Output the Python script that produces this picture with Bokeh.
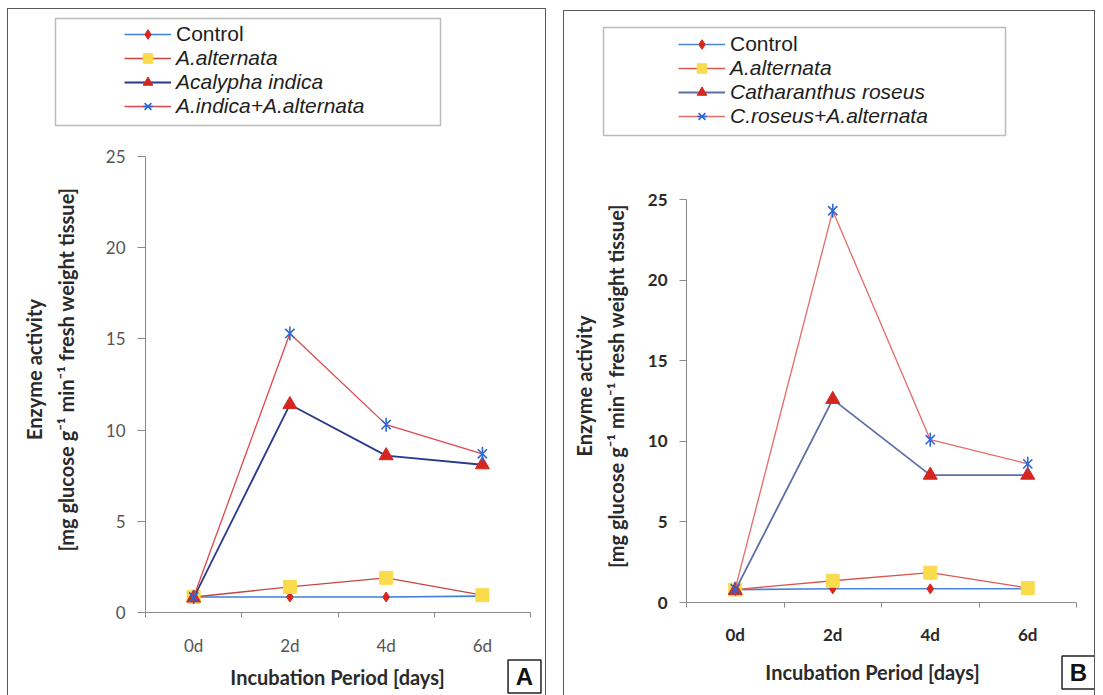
import math

from bokeh.plotting import figure
from bokeh.models import FixedTicker, Legend, LegendItem, Label, BoxAnnotation, Spacer
from bokeh.layouts import row, column
from bokeh.embed import file_html
from bokeh.resources import INLINE

# Sampling days
days = ["0d", "2d", "4d", "6d"]

# Panel A: Acalypha indica
a_control = [0.85, 0.85, 0.85, 0.9]
a_alternata = [0.85, 1.4, 1.9, 0.95]
a_plant = [0.8, 11.4, 8.6, 8.1]
a_combined = [0.85, 15.3, 10.3, 8.7]
a_names = ["Control", "A.alternata", "Acalypha indica", "A.indica+A.alternata"]

# Panel B: Catharanthus roseus
b_control = [0.8, 0.85, 0.85, 0.85]
b_alternata = [0.8, 1.35, 1.85, 0.9]
b_plant = [0.75, 12.6, 7.9, 7.9]
b_combined = [0.85, 24.3, 10.1, 8.6]
b_names = ["Control", "A.alternata", "Catharanthus roseus", "C.roseus+A.alternata"]

y_ticks = [0, 5, 10, 15, 20, 25]
y_title = "Enzyme activity"
y_units = "[mg glucose g\u207b\u00b9 min\u207b\u00b9 fresh weight tissue]"
x_title = "Incubation Period [days]"

LEGEND_FONT = "Liberation Sans"
AXIS_FONT = "Lato"
ROW = 24          # legend row height, px
EDGE = "1px solid #5a5a5a"
PAD = "\u2003\u2003"   # lifts the centred y title above the frame centre


def series_styles(line_colors):
    """Line and marker styling for the four treatments."""
    return [
        dict(line=dict(line_color=line_colors[0], line_width=1.6),
             marks=[dict(marker="diamond", size=10, fill_color="#d8261d", line_color="#d8261d")]),
        dict(line=dict(line_color=line_colors[1], line_width=1.3),
             marks=[dict(marker="square", size=13, fill_color="#f9db4c", line_color="#f9db4c")]),
        dict(line=dict(line_color=line_colors[2], line_width=1.8),
             marks=[dict(marker="triangle", size=14, fill_color="#d5271f", line_color="#d5271f")]),
        dict(line=dict(line_color=line_colors[3], line_width=1.3),
             marks=[dict(marker="x", size=13, line_color="#2f66d4", line_width=1.6),
                    dict(marker="dash", angle=math.pi / 2, size=14, line_color="#2f66d4", line_width=1.6)]),
    ]


def strip(width, height, sides):
    """A bare figure whose frame is the whole canvas (for legend and captions)."""
    s = figure(width=width, height=height, x_range=(0, 1), y_range=(-1, 0),
               output_backend="svg", toolbar_location=None, frame_align=False,
               x_axis_location=None, y_axis_location=None, min_border=0,
               background_fill_color="white", border_fill_color="white")
    s.outline_line_color = None
    s.grid.visible = False
    s.styles = {f"border-{side}": EDGE for side in sides}
    return s


def build_panel(series, names, cfg):
    ox, oy = cfg["origin"]          # page position of the panel's content box
    fl, ft, fw, fh = cfg["frame"]   # plot frame in page pixels
    W = cfg["width"]
    top_h = cfg["top_h"]
    m_top, m_bottom = 10, cfg["m_bottom"]
    cap_h = cfg["cap_h"]
    styles = series_styles(cfg["line_colors"])
    xs = [i + 0.5 for i in range(len(days))]

    # ---- legend strip -------------------------------------------------
    # The sample renderers carry the series but sit outside this strip's
    # visible y range, so only the legend shows them.
    t = strip(W, top_h, ("top", "left", "right"))
    t_bottom = oy + top_h
    bl, bt, br, bb = cfg["legend_box"]
    t.add_layout(BoxAnnotation(
        left=bl - ox, right=br - ox, top=t_bottom - bt, bottom=t_bottom - bb,
        left_units="screen", right_units="screen", top_units="screen", bottom_units="screen",
        fill_alpha=0, line_color="#1e1e1e", line_width=1.5,
    ))
    samples = []
    for vals, st in zip(series, styles):
        rs = [t.line(xs, vals, **st["line"])]
        rs += [t.scatter(xs, vals, **mk) for mk in st["marks"]]
        samples.append(rs)

    gx, gy = cfg["legend_origin"]
    common = dict(
        padding=2, spacing=0, margin=0, border_line_color=None, background_fill_alpha=0,
        glyph_width=47, glyph_height=ROW, label_height=ROW, label_standoff=5,
        label_text_font=LEGEND_FONT, label_text_font_size="21px",
        label_text_color="#1e1e1e", label_text_baseline="middle",
    )
    # Legend location is its lower-left corner, measured up from the frame bottom
    leg1 = Legend(items=[LegendItem(label=names[0], renderers=samples[0])],
                  location=(gx - 2 - ox, t_bottom - (gy - 2 + ROW + 4)),
                  label_text_font_style="normal", **common)
    leg2 = Legend(items=[LegendItem(label=n, renderers=r) for n, r in zip(names[1:], samples[1:])],
                  location=(gx - 2 - ox, t_bottom - (gy + ROW - 2 + 3 * ROW + 4)),
                  label_text_font_style="italic", **common)
    t.add_layout(leg1)
    t.add_layout(leg2)

    # ---- main plot ----------------------------------------------------
    left = fl - ox
    H = m_top + fh + m_bottom
    p = figure(
        width=W, height=H,
        x_range=(0, len(days)), y_range=(0, 25),
        output_backend="svg", toolbar_location=None, frame_align=False,
        min_border_left=left, min_border_top=m_top,
        min_border_right=W - left - fw, min_border_bottom=m_bottom,
        background_fill_color="white", border_fill_color="white",
    )
    p.styles = {"border-left": EDGE, "border-right": EDGE}
    p.outline_line_color = None
    p.grid.visible = False

    # x axis: labels at category centres, tick marks at category boundaries
    xax = p.xaxis[0]
    xax.ticker = FixedTicker(ticks=xs, minor_ticks=list(range(len(days) + 1)))
    xax.major_label_overrides = {x: d for x, d in zip(xs, days)}
    xax.major_tick_line_color = None
    xax.major_tick_out = 0
    xax.major_tick_in = 0
    xax.minor_tick_out = 5
    xax.minor_tick_in = 0
    xax.minor_tick_line_color = "#8a8a8a"
    xax.axis_line_color = "#8a8a8a"
    xax.major_label_text_font = AXIS_FONT
    xax.major_label_text_font_size = "17px"
    xax.major_label_text_font_style = cfg["tick_style"]
    xax.major_label_text_color = cfg["tick_color"]
    xax.major_label_standoff = cfg["x_standoff"]

    yax = p.yaxis[0]
    yax.ticker = FixedTicker(ticks=y_ticks)
    yax.minor_tick_line_color = None
    yax.major_tick_out = cfg["ytick_out"]
    yax.major_tick_in = 0
    yax.major_tick_line_color = "#8a8a8a"
    yax.axis_line_color = "#8a8a8a"
    yax.major_label_text_font = AXIS_FONT
    yax.major_label_text_font_size = "17px"
    yax.major_label_text_font_style = cfg["tick_style"]
    yax.major_label_text_color = cfg["tick_color"]
    yax.major_label_standoff = cfg["y_standoff"]
    yax.axis_label = PAD + y_title + "\n" + PAD + y_units
    yax.axis_label_text_font = AXIS_FONT
    yax.axis_label_text_font_size = "20px"
    yax.axis_label_text_font_style = "bold"
    yax.axis_label_text_color = "#2a2a2a"
    yax.axis_label_text_line_height = 1.33
    yax.axis_label_standoff = cfg["ylabel_standoff"]

    for vals, st in zip(series, styles):
        p.line(xs, vals, **st["line"])
        for mk in st["marks"]:
            p.scatter(xs, vals, **mk)

    # ---- caption strip: x title and boxed panel letter -----------------
    c = strip(W, cap_h, ("left", "right"))
    c_top = oy + top_h + H
    c_bottom = c_top + cap_h
    xt_x, xt_y = cfg["x_title_pos"]
    c.add_layout(Label(
        x=xt_x - ox, y=c_bottom - xt_y, x_units="screen", y_units="screen",
        text=x_title, text_align="center", text_baseline="middle",
        text_font=AXIS_FONT, text_font_size="20px", text_font_style="bold",
        text_color="#2a2a2a",
    ))
    lx, ly = cfg["letter_pos"]
    c.add_layout(Label(
        x=lx - ox, y=c_bottom - ly, x_units="screen", y_units="screen",
        text="\u2009" + cfg["letter"] + "\u2009", text_align="center", text_baseline="middle",
        text_font=LEGEND_FONT, text_font_size="24px", text_font_style="bold",
        text_color="#111111", padding=3,
        border_line_color="#222222", border_line_width=1.5,
        background_fill_color="white",
    ))
    return column(t, p, c)


cfg_a = dict(
    origin=(8, 9), width=539, frame=(145, 157, 385, 458),
    top_h=138, m_bottom=44, cap_h=40,
    tick_style="normal", tick_color="#555555",
    x_standoff=17, ytick_out=8, y_standoff=12, ylabel_standoff=25,
    line_colors=["#3d7fd9", "#c9463f", "#29398c", "#e0474c"],
    legend_box=(55, 18, 440, 125),
    legend_origin=(126, 20),
    x_title_pos=(337, 677), letter_pos=(524, 677), letter="A",
)
cfg_b = dict(
    origin=(566, 11), width=532, frame=(688, 200, 390, 404),
    top_h=179, m_bottom=44, cap_h=50,
    tick_style="bold", tick_color="#2a2a2a",
    x_standoff=16, ytick_out=7, y_standoff=12, ylabel_standoff=17,
    line_colors=["#4a86d8", "#d9574f", "#5f6fa6", "#e56a6a"],
    legend_box=(605, 27, 1007, 135),
    legend_origin=(682, 30),
    x_title_pos=(874, 672), letter_pos=(1080, 673), letter="B",
)

pa = build_panel([a_control, a_alternata, a_plant, a_combined], a_names, cfg_a)
pb = build_panel([b_control, b_alternata, b_plant, b_combined], b_names, cfg_b)

layout = column(
    Spacer(height=8),
    row(Spacer(width=7), pa, Spacer(width=17), column(Spacer(height=2), pb)),
)

open("out.html", "w").write(file_html(layout, INLINE))
